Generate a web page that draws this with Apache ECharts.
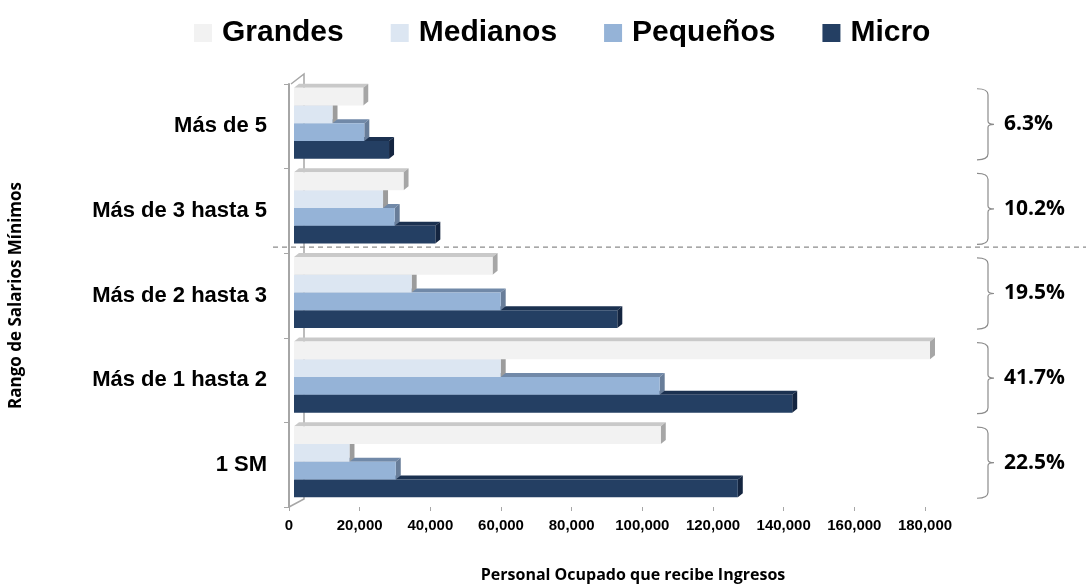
<!DOCTYPE html>
<html>
<head>
<meta charset="utf-8">
<script src="https://cdn.jsdelivr.net/npm/echarts@6/dist/echarts.min.js"></script>
<style>
html, body { margin: 0; padding: 0; background: #fff; }
#main { width: 1086px; height: 588px; }
</style>
</head>
<body>
<div id="main"></div>
<script>
// categorias de arriba hacia abajo
var categorias = ['Más de 5', 'Más de 3 hasta 5', 'Más de 2 hasta 3', 'Más de 1 hasta 2', '1 SM'];
var grandes = [19600, 31000, 56200, 180000, 103800];
var medianos = [10900, 25200, 33300, 58500, 15700];
var pequenos = [19900, 28500, 58500, 103500, 28800];
var micro = [26900, 40000, 91500, 141000, 125600];
var porcentajes = ['6.3%', '10.2%', '19.5%', '41.7%', '22.5%'];
var ticksX = [0, 20000, 40000, 60000, 80000, 100000, 120000, 140000, 160000, 180000];

var estilos = [
	{ nombre: 'Grandes', face: '#f2f2f2', top: '#c9c9c9', side: '#a6a6a6', datos: grandes },
	{ nombre: 'Medianos', face: '#dce6f2', top: '#b3bac3', side: '#9c9c9c', datos: medianos },
	{ nombre: 'Pequeños', face: '#95b3d7', top: '#7189a8', side: '#687d99', datos: pequenos },
	{ nombre: 'Micro', face: '#243f63', top: '#1b3150', side: '#142540', datos: micro }
];

var chart = echarts.init(document.getElementById('main'));

function barra(idx, st) {
	return function(params, api) {
		var c = api.value(1);
		var p0 = api.coord([0, c]);
		var p1 = api.coord([api.value(0), c]);
		var band = api.size([0, 1])[1];
		var h = band * 0.21;
		var y = p0[1] - 2 * h - 3 + idx * h;
		var x0 = p0[0] + 5, x1 = p1[0] + 5;
		var d = 5, e = 4;
		return {
			type: 'group',
			children: [{
				type: 'polygon',
				shape: { points: [[x0, y], [x0 + d, y - e], [x1 + d, y - e], [x1, y]] },
				style: { fill: st.top }
			}, {
				type: 'polygon',
				shape: { points: [[x1, y], [x1 + d, y - e], [x1 + d, y + h - e], [x1, y + h]] },
				style: { fill: st.side }
			}, {
				type: 'rect',
				shape: { x: x0, y: y, width: x1 - x0, height: h },
				style: { fill: st.face }
			}]
		};
	};
}

var series = estilos.map(function(st, i) {
	return {
		name: st.nombre,
		type: 'custom',
		z: 10 - i,
		itemStyle: { color: st.face },
		renderItem: barra(i, st),
		encode: { x: 0, y: 1 },
		data: st.datos.map(function(v, c) { return [v, c]; })
	};
});

// llaves con porcentajes a la derecha
series.push({
	type: 'custom',
	z: 20,
	silent: true,
	renderItem: function(params, api) {
		var c = api.value(1);
		var p = api.coord([0, c]);
		var band = api.size([0, 1])[1];
		var xr = params.coordSys.x + params.coordSys.width;
		var cy = p[1] - 2;
		var t = cy - band * 0.42, b = cy + band * 0.42;
		var xa = xr + 52, xv = xr + 63, xt = xr + 69;
		var path = 'M' + xa + ' ' + t + ' Q' + xv + ' ' + t + ' ' + xv + ' ' + (t + 6) +
			' L' + xv + ' ' + (cy - 3) + ' Q' + xv + ' ' + cy + ' ' + xt + ' ' + cy +
			' Q' + xv + ' ' + cy + ' ' + xv + ' ' + (cy + 3) +
			' L' + xv + ' ' + (b - 6) + ' Q' + xv + ' ' + b + ' ' + xa + ' ' + b;
		var ch = [{
			type: 'path',
			shape: { pathData: path },
			style: { fill: null, stroke: '#8c8c8c', lineWidth: 1.2 }
		}, {
			type: 'text',
			x: xr + 79,
			y: cy,
			style: {
				text: porcentajes[c],
				fill: '#000',
				font: 'bold 21px "Open Sans"',
				verticalAlign: 'middle',
				align: 'left'
			}
		}];
		if (c === 1) {
			var yl = p[1] + band / 2 - 6;
			ch.push({
				type: 'line',
				shape: { x1: params.coordSys.x - 16, y1: yl, x2: 1086, y2: yl },
				style: { stroke: '#8c8c8c', lineWidth: 1.2, lineDash: [5, 4] }
			});
		}
		return { type: 'group', children: ch };
	},
	encode: { x: 0, y: 1 },
	data: porcentajes.map(function(p, c) { return [0, c]; })
});

chart.setOption({
	animation: false,
	legend: {
		data: ['Grandes', 'Medianos', 'Pequeños', 'Micro'],
		top: 13,
		left: 189,
		icon: 'rect',
		itemWidth: 18,
		itemHeight: 18,
		itemGap: 47,
		textStyle: {
			fontFamily: 'Liberation Sans',
			fontWeight: 'bold',
			fontSize: 30,
			color: '#000',
			padding: [0, 0, 0, 5]
		}
	},
	grid: {
		left: 284,
		right: 161,
		top: 84,
		bottom: 76,
		containLabel: false
	},
	xAxis: {
		type: 'value',
		min: 0,
		max: ticksX[ticksX.length - 1],
		interval: 20000,
		name: 'Personal Ocupado que recibe Ingresos',
		nameLocation: 'middle',
		nameGap: 60,
		nameTextStyle: { fontFamily: 'Open Sans', fontWeight: 'bold', fontSize: 16, color: '#000', padding: [0, 0, 0, 52] },
		axisLine: { lineStyle: { color: '#a6a6a6', width: 2 } },
		axisTick: { show: true, length: 4, lineStyle: { color: '#a6a6a6' } },
		splitLine: { show: false },
		axisLabel: {
			margin: 11,
			fontFamily: 'Liberation Sans',
			fontWeight: 'bold',
			fontSize: 15,
			color: '#000',
			formatter: function(v) { return v.toLocaleString('en-US'); }
		}
	},
	yAxis: {
		type: 'category',
		inverse: true,
		data: categorias,
		name: 'Rango de Salarios Mínimos',
		nameLocation: 'middle',
		nameRotate: 90,
		nameGap: 264,
		nameTextStyle: { fontFamily: 'Open Sans', fontWeight: 'bold', fontSize: 17, color: '#000' },
		axisLine: { lineStyle: { color: '#a6a6a6', width: 2 } },
		axisTick: { show: true, length: 5, lineStyle: { color: '#a6a6a6' } },
		axisLabel: {
			margin: 22,
			fontFamily: 'Liberation Sans',
			fontWeight: 'bold',
			fontSize: 22,
			color: '#000'
		}
	},
	series: series
});

// pared lateral en perspectiva
var g = chart.getModel().getComponent('grid').coordinateSystem.getRect();
chart.setOption({
	graphic: [{
		type: 'polyline',
		silent: true,
		z: 1,
		shape: { points: [[g.x + 2, g.y], [g.x + 15, g.y - 10], [g.x + 15, g.y + g.height - 8], [g.x, g.y + g.height]] },
		style: { fill: null, stroke: '#a6a6a6', lineWidth: 1.5 }
	}]
});
</script>
</body>
</html>
